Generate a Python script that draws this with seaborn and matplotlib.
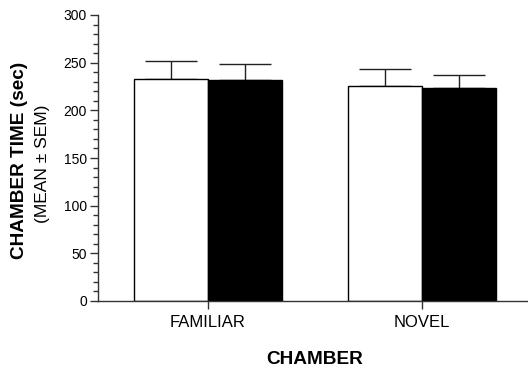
import numpy as np
import pandas as pd
import seaborn as sns
import matplotlib.pyplot as plt
from matplotlib.ticker import MultipleLocator

# data
chambers = ["FAMILIAR", "NOVEL"]
groups = ["Group A", "Group B"]
mean_a = [233, 226]
mean_b = [232, 223]
sem_a = [19, 17]
sem_b = [17, 14]

df = pd.DataFrame({
    "chamber": chambers * 2,
    "group": [groups[0]] * 2 + [groups[1]] * 2,
    "time": mean_a + mean_b,
    "sem": sem_a + sem_b,
})

sns.set_style("ticks")
plt.rcParams["font.family"] = ["Liberation Sans", "DejaVu Sans"]
plt.rcParams["text.color"] = "black"
plt.rcParams["xtick.labelcolor"] = "black"
plt.rcParams["ytick.labelcolor"] = "black"

fig = plt.figure(figsize=(5.28, 3.71), dpi=100)
ax = fig.add_axes([98 / 528, 70 / 371, 430 / 528, 286 / 371])

sns.barplot(data=df, x="chamber", y="time", hue="group", order=chambers,
            hue_order=groups, palette=["white", "black"], errorbar=None,
            width=0.69, edgecolor="black", linewidth=1.0, legend=False, ax=ax)

# upper-only SEM bars, placed at the centres of the drawn bars
for patch, (_, row) in zip(ax.patches, df.iterrows()):
    cx = patch.get_x() + patch.get_width() / 2
    ax.errorbar(cx, row["time"], yerr=[[0], [row["sem"]]], fmt="none",
                ecolor="#222222", elinewidth=1.0, capsize=19, capthick=1.0,
                zorder=0.5)

ax.set_ylim(0, 300)
ax.set_xlim(-0.514, 1.495)
ax.yaxis.set_major_locator(MultipleLocator(50))
ax.yaxis.set_minor_locator(MultipleLocator(10))
ax.tick_params(axis="y", which="major", length=6, width=1, labelsize=10,
               color="#333333", labelcolor="black", pad=2)
ax.tick_params(axis="y", which="minor", length=3.5, width=1, color="#333333")
ax.tick_params(axis="x", length=6, width=1, labelsize=12, color="#333333",
               labelcolor="black", pad=4)
for s in ["left", "bottom"]:
    ax.spines[s].set_color("#333333")
    ax.spines[s].set_linewidth(1)
sns.despine(ax=ax)

ax.set_xlabel("")
ax.set_ylabel("")
fig.text(20 / 528, 1 - 160 / 371, "CHAMBER TIME (sec)", rotation=90,
         ha="center", va="center", fontsize=13.7, fontweight="bold",
         color="black")
fig.text(43 / 528, 1 - 164 / 371, "(MEAN \u00b1 SEM)", rotation=90,
         ha="center", va="center", fontsize=12.5, color="black")
fig.text(315 / 528, 1 - 359 / 371, "CHAMBER", ha="center", va="center",
         fontsize=13.7, fontweight="bold", color="black")

fig.savefig("out.png", dpi=100)
